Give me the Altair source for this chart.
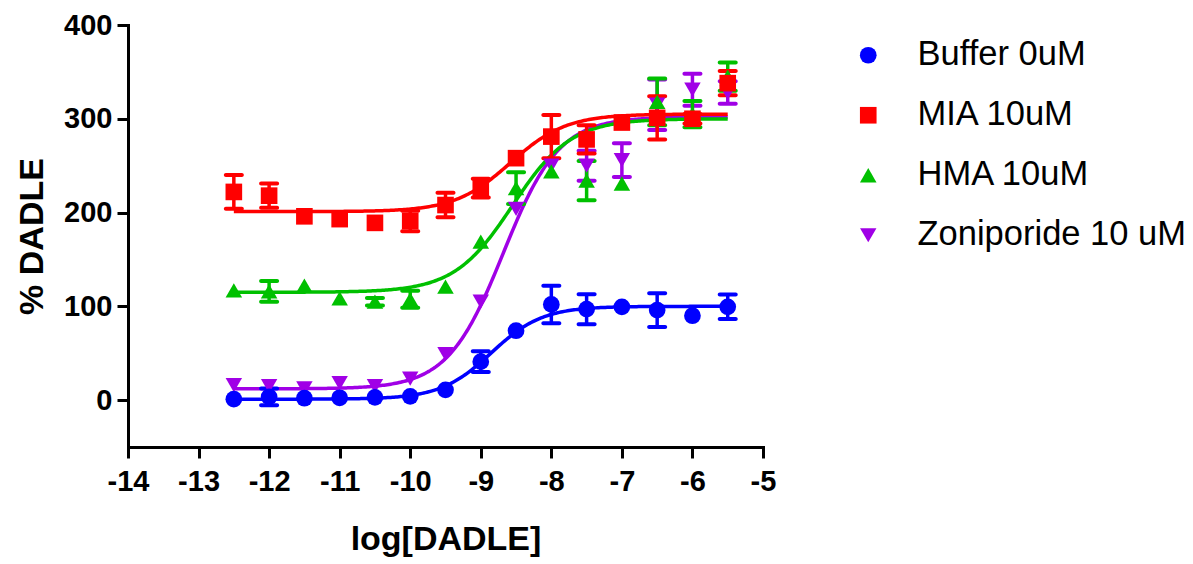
import altair as alt
import numpy as np
import pandas as pd

# ---- data ----
log_dadle = [-12.5, -12, -11.5, -11, -10.5, -10, -9.5, -9, -8.5, -8, -7.5, -7, -6.5, -6, -5.5]

series_names = ["Buffer 0uM", "MIA 10uM", "HMA 10uM", "Zoniporide 10 uM"]
series_colors = ["#0000FF", "#FF0000", "#00C000", "#A000E6"]
series_shapes = ["circle", "square", "triangle-up", "triangle-down"]
series_sizes = [280, 270, 440, 440]

buffer_y = [1, 3.5, 2, 2.5, 3, 4, 11, 41, 74, 102, 97, 99.5, 96, 90, 99.5]
buffer_err = [0, 9, 0, 0, 0, 0, 0, 11, 0, 20, 16, 0, 18, 0, 13]

mia_y = [222, 218, 196, 193, 189, 191, 208, 226, 258, 281, 278, 296, 301, 300, 338]
mia_err = [18, 13, 0, 0, 0, 11, 13, 10, 0, 23, 15, 0, 23, 5, 13]

hma_y = [117, 116, 122, 108.5, 105, 107.5, 121, 169, 226, 244, 234, 231, 318, 305, 345]
hma_err = [0, 11, 0, 0, 4, 9, 0, 0, 17, 0, 21, 0, 25, 14, 15]

zon_y = [16, 15, 12.5, 18, 15, 23, 49, 105, 204, 250, 250, 256, 315, 331, 328]
zon_err = [0, 0, 0, 0, 0, 0, 0, 0, 0, 0, 16, 18, 27, 17, 12]

# fitted curve parameters (bottom, top, logEC50, hill)
fit_bottom = [1, 201, 115, 12]
fit_top = [100, 305, 300, 302]
fit_logec50 = [-8.85, -8.58, -8.55, -8.68]
fit_hill = [1.2, 1.1, 1.05, 1.1]

# ---- tables ----
ys = [buffer_y, mia_y, hma_y, zon_y]
errs = [buffer_err, mia_err, hma_err, zon_err]
draw_order = [3, 2, 0, 1]  # purple, green, blue, red on top

rows = []
for i in draw_order:
    for x, y, e in zip(log_dadle, ys[i], errs[i]):
        rows.append({"series": series_names[i], "x": x, "y": y, "err": e,
                     "lo": y - e, "hi": y + e, "order": draw_order.index(i)})
pts = pd.DataFrame(rows)

xs = np.linspace(log_dadle[0], log_dadle[-1], 300)

FONT = "Liberation Sans"

xscale = alt.Scale(domain=[-14, -5], nice=False, zero=False)
yscale = alt.Scale(domain=[-50, 400], nice=False, zero=False)
cscale = alt.Scale(domain=series_names, range=series_colors)
sscale = alt.Scale(domain=series_names, range=series_shapes)
zscale = alt.Scale(domain=series_names, range=series_sizes)

legend = alt.Legend(
    title=None, orient="none", legendX=723, legendY=13,
    labelFont=FONT, labelFontSize=34.5, labelColor="black",
    symbolSize=300, symbolStrokeWidth=0, symbolOpacity=1,
    rowPadding=25, labelOffset=32, labelLimit=400,
)

xaxis = alt.Axis(
    values=list(range(-14, -4)), title="log[DADLE]",
    labelExpr="'' + datum.value", labelOverlap=False,
    titleFont=FONT, titleFontSize=34, titleFontWeight="bold", titleColor="black",
    titleBaseline="alphabetic", titleY=102,
    labelFont=FONT, labelFontSize=29, labelFontWeight="bold", labelColor="black",
    labelPadding=9, tickSize=11, tickWidth=3, tickColor="black",
    domainWidth=3, domainColor="black", domainCap="square", grid=False,
    labelFlush=False,
)
yaxis = alt.Axis(
    values=[0, 100, 200, 300, 400], title="% DADLE",
    labelExpr="'' + datum.value", labelOverlap=False,
    titleFont=FONT, titleFontSize=34, titleFontWeight="bold", titleColor="black",
    titleAngle=-90, titleAlign="center", titleBaseline="alphabetic",
    titleX=-86, titleY=211,
    labelFont=FONT, labelFontSize=29, labelFontWeight="bold", labelColor="black",
    labelPadding=5, tickSize=11, tickWidth=3, tickColor="black",
    domainWidth=3, domainColor="black", domainCap="square", grid=False,
    labelFlush=False,
)

layers = []
# axes carrier (invisible) so axes are defined once
layers.append(
    alt.Chart(pts).mark_point(opacity=0).encode(
        x=alt.X("x:Q", scale=xscale, axis=xaxis),
        y=alt.Y("y:Q", scale=yscale, axis=yaxis),
    )
)

for i in draw_order:
    name, col = series_names[i], series_colors[i]
    b, t, c, h = fit_bottom[i], fit_top[i], fit_logec50[i], fit_hill[i]
    cdf = pd.DataFrame({"x": xs, "y": b + (t - b) / (1 + 10 ** ((c - xs) * h))})
    layers.append(
        alt.Chart(cdf).mark_line(strokeWidth=3.5, color=col).encode(x="x:Q", y="y:Q")
    )

for i in draw_order:
    name, col = series_names[i], series_colors[i]
    sub = pts[(pts.series == name) & (pts.err > 0)]
    if len(sub) == 0:
        continue
    base = alt.Chart(sub)
    layers.append(base.mark_rule(strokeWidth=3.5, color=col).encode(x="x:Q", y="lo:Q", y2="hi:Q"))
    layers.append(base.mark_tick(orient="horizontal", size=20, thickness=4, opacity=1,
                                 color=col, cornerRadius=2).encode(x="x:Q", y="lo:Q"))
    layers.append(base.mark_tick(orient="horizontal", size=20, thickness=4, opacity=1,
                                 color=col, cornerRadius=2).encode(x="x:Q", y="hi:Q"))

layers.append(
    alt.Chart(pts).mark_point(filled=True, opacity=1, strokeWidth=0).encode(
        x="x:Q", y="y:Q",
        color=alt.Color("series:N", scale=cscale, legend=legend),
        shape=alt.Shape("series:N", scale=sscale, legend=legend),
        size=alt.Size("series:N", scale=zscale, legend=None),
        order="order:Q",
    )
)

chart = alt.layer(*layers).properties(
    width=635, height=422,
    autosize=alt.AutoSizeParams(type="none"),
    padding={"left": 128, "top": 25, "right": 430, "bottom": 117},
    background="white",
).configure_view(stroke=None)

chart.save("out.html", embed_options={"renderer": "svg", "actions": False})
